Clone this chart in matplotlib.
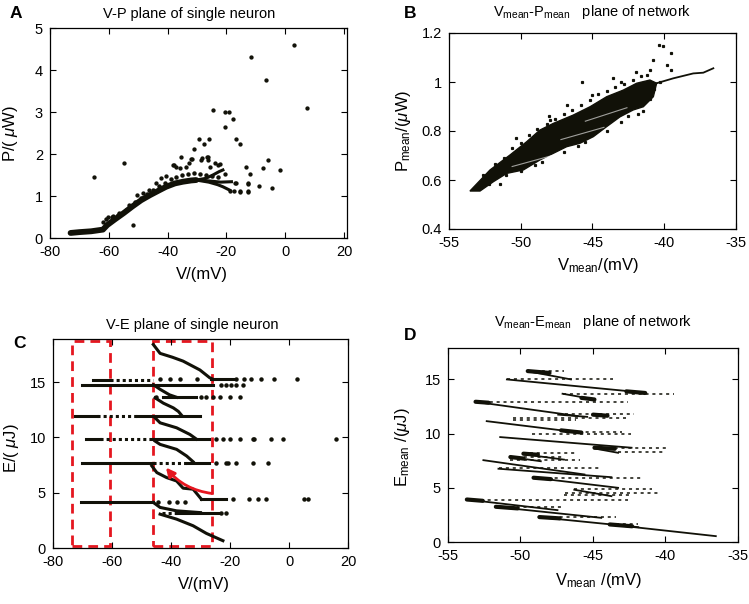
"""Phase-plane panels: V-P / V-E of a single neuron and of the network mean."""
import matplotlib
matplotlib.use("Agg")
import matplotlib.pyplot as plt
from matplotlib.patches import Rectangle, FancyArrowPatch

plt.rcParams["font.family"] = ["Liberation Sans", "DejaVu Sans"]
plt.rcParams["mathtext.fontset"] = "custom"
plt.rcParams["mathtext.rm"] = "Liberation Sans"
plt.rcParams["mathtext.it"] = "Liberation Sans:italic"
plt.rcParams["axes.unicode_minus"] = False

INK = "#111108"
RED = "#e5161f"

# ---- (A) V-P plane of single neuron ----
a_band_v = [-73, -70, -66, -62, -60.5, -58, -55, -52, -49, -46, -43, -40.5, -37.5, -34.8, -32, -30.3]
a_band_p = [0.12, 0.14, 0.16, 0.2, 0.31, 0.44, 0.59, 0.75, 0.9, 1.02, 1.13, 1.22, 1.3, 1.34, 1.37, 1.38]
a_up_v = [-30.3, -27, -24.6, -22.5, -21.2]
a_up_p = [1.38, 1.42, 1.5, 1.58, 1.62]
a_mid_v = [-30.3, -26, -22, -18.3]
a_mid_p = [1.38, 1.36, 1.33, 1.34]
a_low_v = [-30.3, -26, -23, -21.2, -18.9]
a_low_p = [1.38, 1.33, 1.27, 1.22, 1.14]
a_fringe_v = [-61, -59, -57, -55, -53, -51, -49, -47, -45, -43, -41, -39, -37, -35, -33, -31, -29, -27, -25, -23]
a_fringe_p = [0.45, 0.5, 0.55, 0.62, 0.72, 0.85, 0.95, 1.05, 1.15, 1.25, 1.32, 1.4, 1.45, 1.5, 1.52, 1.55, 1.52, 1.5, 1.48, 1.45]
a_dot_v = [-65.2, -54.7, -51.7, 2.9, -11.5, -6.7, 7.3, -24.4, -20.6, -19.1, -17.7, -20.4,
           -29.4, -25.8, -16.7, -15.3, -27.5, -30.9, -35.4, -32.0, -31.6, -26.7, -26.1, -28.4,
           -22.7, -38.1, -35.8, -13.5, -12.1, -5.7, -7.5, -1.7, -16.9, -12.6, -9.0, -4.4,
           -12.6, -15.4, -17.4, -62.1, -60.4, -58.7, -56.5, -54.2, -53.0, -50.5, -48.5,
           -46.2, -43.9, -42.2, -40.5, -37.7, -37.1, -33.7, -32.6, -28.6, -26.3, -25.7,
           -24.0, -22.3, -20.6, -17.2, -15.5, -18.9, -12.7, -12.7]
a_dot_p = [1.46, 1.79, 0.32, 4.6, 4.32, 3.76, 3.1, 3.05, 3.0, 3.0, 2.84, 2.65,
           2.36, 2.36, 2.36, 2.24, 2.23, 2.11, 1.92, 1.89, 1.89, 1.94, 1.86, 1.9,
           1.75, 1.75, 1.67, 1.68, 1.52, 1.86, 1.66, 1.62, 1.3, 1.29, 1.23, 1.2,
           1.11, 1.11, 1.12, 0.39, 0.51, 0.52, 0.59, 0.67, 0.79, 1.02, 1.06,
           1.14, 1.3, 1.42, 1.48, 1.74, 1.7, 1.7, 1.78, 1.86, 1.94, 1.7,
           1.78, 1.76, 1.52, 1.3, 1.1, 1.13, 1.3, 1.1]

# ---- (B) Vmean-Pmean plane of network ----
b_cloud_v = [-53.54, -52.14, -50.75, -49.59, -48.66, -47.73, -46.34, -45.17, -44.01, -42.85,
             -41.92, -41.0, -40.53, -40.76, -41.46, -42.16, -43.08, -44.01, -44.94, -45.87,
             -46.8, -47.73, -48.66, -49.82, -50.98, -51.91, -52.84]
b_cloud_p = [0.555, 0.641, 0.702, 0.756, 0.804, 0.831, 0.865, 0.899, 0.94, 0.967,
             0.995, 1.008, 0.995, 0.94, 0.899, 0.886, 0.858, 0.818, 0.777, 0.75,
             0.736, 0.709, 0.682, 0.641, 0.627, 0.593, 0.555]
b_tail_v = [-40.53, -39.37, -37.98, -37.28, -36.58]
b_tail_p = [0.995, 1.015, 1.035, 1.038, 1.056]
b_gap_v = [(-50.6, -47.8), (-47.2, -44.2), (-45.5, -42.6)]
b_gap_p = [(0.655, 0.7), (0.765, 0.815), (0.84, 0.895)]
b_dot_v = [-52.6, -51.8, -51.2, -50.6, -50.0, -49.4, -48.9, -48.2, -47.6, -47.0, -46.4, -45.8,
           -45.2, -44.6, -44.0, -43.4, -42.8, -42.2, -41.6, -41.2, -41.0, -40.8, -40.4, -40.1,
           -39.55, -39.8, -39.5, -45.75, -43.55, -45.06, -46.8, -47.96, -51.45, -41.5, -41.0,
           -42.5, -44.0, -45.5, -47.0, -48.5, -50.0, -51.0, -52.2, -49.0, -46.0, -43.0, -41.8,
           -40.7, -40.3, -48.0, -50.3, -43.0, -42.0]
b_dot_p = [0.62, 0.665, 0.69, 0.73, 0.75, 0.785, 0.81, 0.83, 0.85, 0.87, 0.885, 0.905,
           0.925, 0.95, 0.965, 0.98, 0.99, 1.01, 1.025, 1.03, 1.05, 1.09, 1.15, 1.145,
           1.12, 1.07, 1.05, 1.0, 1.015, 0.947, 0.906, 0.845, 0.582, 0.88, 0.93,
           0.86, 0.8, 0.755, 0.715, 0.675, 0.635, 0.62, 0.585, 0.66, 0.74, 0.835, 0.87,
           0.97, 1.0, 0.86, 0.77, 1.0, 1.04]

# ---- (C) V-E plane of single neuron ----
c_curves_v = [[-46.0, -43.7, -39.5, -35.9, -30.2, -26.9, -25.7],
              [-46.0, -43.7, -40.5, -38.1],
              [-45.4, -42.6, -39.2, -37.5, -36.4],
              [-45.4, -43.7, -38.1, -33.6, -31.4],
              [-45.4, -43.7, -38.1, -34.7, -32.5],
              [-46.5, -44.8, -41.5, -38.1, -35.9, -32.5, -29.7],
              [-46.0, -43.7, -38.1, -30.0],
              [-43.7, -38.1, -32.5, -28.0, -22.4]]
c_curves_e = [[18.4, 17.6, 17.25, 16.9, 16.1, 15.4, 15.25],
              [14.77, 14.35, 13.85, 13.63],
              [13.58, 13.1, 12.67, 12.35, 12.0],
              [11.77, 11.32, 10.87, 10.27, 9.85],
              [9.67, 9.37, 8.92, 8.32, 7.8],
              [7.42, 6.82, 6.37, 6.06, 5.41, 5.32, 4.41],
              [4.12, 3.67, 3.36, 3.2],
              [3.06, 2.61, 2.01, 1.32, 0.66]]
c_solid_v0 = [-66.4, -26.5, -70.1, -42.6, -72.7, -51.6, -68.7, -46.0, -70.1, -34.7, -70.5, -29.7, -38.0]
c_solid_v1 = [-60.6, -19.1, -25.7, -31.4, -65.1, -30.2, -64.0, -27.0, -46.0, -27.0, -46.0, -21.2, -24.1]
c_solid_e = [15.2, 15.25, 14.77, 13.63, 11.92, 11.92, 9.82, 9.82, 7.66, 7.66, 4.2, 4.41, 3.2]
c_dotted_v0 = [-60.6, -64.0, -65.1, -46.0, -43.0]
c_dotted_v1 = [-46.0, -46.0, -51.6, -34.7, -38.0]
c_dotted_e = [15.2, 9.82, 11.92, 7.66, 3.2]
c_dot_v = [-43.7, -40.3, -37.0, -31.3, -17.9, -15.1, -12.8, -9.4, -5.0, 2.7,
           -22.9, -21.2, -19.5, -17.9, -15.6,
           -45.1, -29.7, -28.0, -25.7, -23.5, -20.1, -16.7,
           -24.6, -22.4, -20.1, -16.7, -12.3, -11.7, -6.1, -2.2, 15.9,
           -24.6, -21.2, -20.7, -17.9, -12.3, -7.2,
           -44.3, -40.6, -38.1, -35.3,
           -19.0, -13.4, -10.6, -7.7, 5.2, 6.3,
           -23.0, -21.5]
c_dot_e = [15.25] * 10 + [14.77] * 5 + [13.63] * 7 + [9.82] * 9 + [7.66] * 6 + [4.2] * 4 + [4.41] * 6 + [3.2] * 2
c_box_v = [(-73.7, -60.8), (-46.0, -26.1)]
c_box_e = (0.2, 18.7)
c_arrow_tail = (-26.1, 4.93)
c_arrow_head = (-41.7, 7.27)

# ---- (D) Vmean-Emean plane of network ----
d_diag = [(-49.54, 15.77, -46.52, 15.0), (-50.94, 15.0, -41.41, 13.77), (-47.1, 13.68, -44.9, 13.16),
          (-53.14, 12.94, -46.06, 11.62), (-47.4, 11.75, -45.4, 11.55), (-52.33, 11.15, -45.82, 10.08),
          (-51.4, 9.68, -42.34, 8.7), (-44.9, 8.63, -43.27, 8.23), (-49.8, 8.1, -47.0, 7.6),
          (-50.7, 7.84, -48.6, 7.45), (-52.56, 7.55, -45.59, 6.23), (-51.52, 6.76, -43.73, 5.98),
          (-49.08, 5.93, -43.27, 5.0), (-46.29, 4.82, -43.73, 4.23), (-53.72, 3.92, -47.45, 2.94),
          (-51.75, 3.25, -44.43, 2.23), (-48.73, 2.29, -41.88, 1.37), (-43.85, 1.62, -36.53, 0.54)]
d_streak = [(-49.5, -47.0, 15.77), (-50.9, -43.6, 15.0), (-47.1, -39.4, 13.62), (-53.1, -42.6, 12.94),
            (-47.4, -42.2, 11.84), (-50.5, -42.7, 11.47), (-50.5, -46.2, 11.22), (-49.2, -42.4, 10.0),
            (-46.9, -43.0, 10.15), (-44.9, -39.9, 8.7), (-43.3, -40.2, 8.29), (-49.8, -46.2, 8.2),
            (-50.7, -46.9, 7.83), (-50.7, -45.9, 7.55), (-51.5, -44.6, 6.8), (-49.1, -41.6, 5.93),
            (-46.3, -40.9, 4.9), (-46.9, -40.4, 4.5), (-47.0, -42.5, 4.3), (-53.7, -42.6, 3.9),
            (-51.7, -47.0, 3.25), (-48.7, -43.4, 2.29), (-43.9, -41.9, 1.62)]
d_blob = [(-49.5, 15.77, -48.0, 15.6), (-42.7, 13.9, -41.4, 13.75), (-45.8, 13.3, -44.9, 13.15),
          (-53.1, 12.94, -52.2, 12.85), (-47.2, 10.3, -45.8, 10.1), (-44.9, 8.7, -43.5, 8.6),
          (-49.8, 8.15, -48.8, 8.05), (-50.7, 7.84, -49.8, 7.7), (-49.1, 5.93, -47.9, 5.8),
          (-53.7, 3.92, -52.6, 3.8), (-51.7, 3.25, -50.2, 3.1), (-48.7, 2.3, -47.3, 2.18),
          (-43.85, 1.62, -42.3, 1.45), (-45.0, 11.75, -44.0, 11.65)]


def style_axes(ax):
    ax.tick_params(direction="in", top=True, right=True, length=4, width=0.8,
                   labelsize=10.5, pad=5)
    for s in ax.spines.values():
        s.set_linewidth(0.9)


fig = plt.figure(figsize=(7.49, 6.04), dpi=100)
W, H = 749, 604


def axes_px(l, t, r, b):
    return fig.add_axes([l / W, 1 - b / H, (r - l) / W, (b - t) / H])


# (A)
ax = axes_px(50, 28, 347, 238)
ax.plot(a_band_v, a_band_p, color=INK, lw=4.2, solid_capstyle="round")
for vv, pp in [(a_up_v, a_up_p), (a_mid_v, a_mid_p), (a_low_v, a_low_p)]:
    ax.plot(vv, pp, color=INK, lw=2.2)
ax.plot(a_fringe_v, a_fringe_p, ls="none", marker="o", ms=2.2, color=INK)
ax.plot(a_dot_v, a_dot_p, ls="none", marker="o", ms=2.1, color=INK)
ax.set_xlim(-80, 21)
ax.set_ylim(0, 5)
ax.set_xticks([-80, -60, -40, -20, 0, 20])
ax.set_yticks([0, 1, 2, 3, 4, 5])
style_axes(ax)
ax.set_xlabel("V/(mV)", fontsize=12)
ax.set_ylabel("P/( $\\mu$W)", fontsize=12)
ax.xaxis.set_label_coords(0.51, -0.14)
ax.yaxis.set_label_coords(-0.1, 0.5)
ax.set_title("V-P plane of single neuron", fontsize=10.5, x=0.468, pad=7)
fig.text(16 / W, 1 - 13 / H, "A", fontsize=12.5, fontweight="bold", ha="center", va="center")

# (B)
ax = axes_px(449, 33, 736, 229)
ax.fill(b_cloud_v, b_cloud_p, color=INK, lw=1.0, ec=INK)
for vv, pp in zip(b_gap_v, b_gap_p):
    ax.plot(vv, pp, color="white", lw=0.8, alpha=0.6)
ax.plot(b_tail_v, b_tail_p, color=INK, lw=1.3)
ax.plot(b_dot_v, b_dot_p, ls="none", marker="s", ms=1.3, color=INK)
ax.set_xlim(-55, -35)
ax.set_ylim(0.4, 1.2)
ax.set_xticks([-55, -50, -45, -40, -35])
ax.set_yticks([0.4, 0.6, 0.8, 1.0, 1.2])
ax.set_yticklabels(["0.4", "0.6", "0.8", "1", "1.2"])
style_axes(ax)
ax.set_xlabel("V$_{\\mathrm{mean}}$/(mV)", fontsize=12)
ax.set_ylabel("P$_{\\mathrm{mean}}$/($\\mu$W)", fontsize=12)
ax.xaxis.set_label_coords(0.52, -0.14)
ax.yaxis.set_label_coords(-0.125, 0.5)
ax.set_title("V$_{\\mathrm{mean}}$-P$_{\\mathrm{mean}}$   plane of network", fontsize=10.5, pad=12)
fig.text(410 / W, 1 - 13 / H, "B", fontsize=12.5, fontweight="bold", ha="center", va="center")

# (C)
ax = axes_px(53, 339, 348, 548)
for v0, v1 in c_box_v:
    ax.add_patch(Rectangle((v0, c_box_e[0]), v1 - v0, c_box_e[1] - c_box_e[0], fill=False,
                           ec=RED, lw=2.0, ls=(0, (3.5, 2.2)), zorder=1))
for vv, ee in zip(c_curves_v, c_curves_e):
    ax.plot(vv, ee, color=INK, lw=2.2, zorder=3)
for v0, v1, e in zip(c_solid_v0, c_solid_v1, c_solid_e):
    ax.plot([v0, v1], [e, e], color=INK, lw=2.2, zorder=3)
for v0, v1, e in zip(c_dotted_v0, c_dotted_v1, c_dotted_e):
    ax.plot([v0, v1], [e, e], color=INK, lw=2.2, ls=(0, (1, 1)), zorder=3)
ax.plot(c_dot_v, c_dot_e, ls="none", marker="o", ms=2.2, color=INK, zorder=3)
ax.add_patch(FancyArrowPatch(c_arrow_tail, c_arrow_head, connectionstyle="arc3,rad=-0.2",
                             arrowstyle="-|>", mutation_scale=13, color=RED, lw=2.0,
                             shrinkA=0, shrinkB=0, zorder=4))
ax.set_xlim(-80, 20)
ax.set_ylim(0, 18.9)
ax.set_xticks([-80, -60, -40, -20, 0, 20])
ax.set_yticks([0, 5, 10, 15])
style_axes(ax)
ax.set_xlabel("V/(mV)", fontsize=12)
ax.set_ylabel("E/( $\\mu$J)", fontsize=12)
ax.xaxis.set_label_coords(0.51, -0.14)
ax.yaxis.set_label_coords(-0.11, 0.48)
ax.set_title("V-E plane of single neuron", fontsize=10.5, x=0.471, pad=7)
fig.text(19 / W, 1 - 344 / H, "C", fontsize=12.5, fontweight="bold", ha="center", va="center")

# (D)
ax = axes_px(448, 348, 738, 542)
for v0, v1, e in d_streak:
    ax.plot([v0, v1], [e, e], color=INK, lw=1.1, ls=(0, (2, 2.5)))
for v0, e0, v1, e1 in d_diag:
    ax.plot([v0, v1], [e0, e1], color=INK, lw=1.3)
for v0, e0, v1, e1 in d_blob:
    ax.plot([v0, v1], [e0, e1], color=INK, lw=3.0, solid_capstyle="round")
ax.set_xlim(-55, -35)
ax.set_ylim(0, 17.9)
ax.set_xticks([-55, -50, -45, -40, -35])
ax.set_yticks([0, 5, 10, 15])
style_axes(ax)
ax.set_xlabel("V$_{\\mathrm{mean}}$ /(mV)", fontsize=12)
ax.set_ylabel("E$_{\\mathrm{mean}}$ /($\\mu$J)", fontsize=12)
ax.xaxis.set_label_coords(0.52, -0.15)
ax.yaxis.set_label_coords(-0.125, 0.49)
ax.set_title("V$_{\\mathrm{mean}}$-E$_{\\mathrm{mean}}$   plane of network", fontsize=10.5, pad=16)
fig.text(410 / W, 1 - 336 / H, "D", fontsize=12.5, fontweight="bold", ha="center", va="center")

fig.savefig("out.png", dpi=100)
